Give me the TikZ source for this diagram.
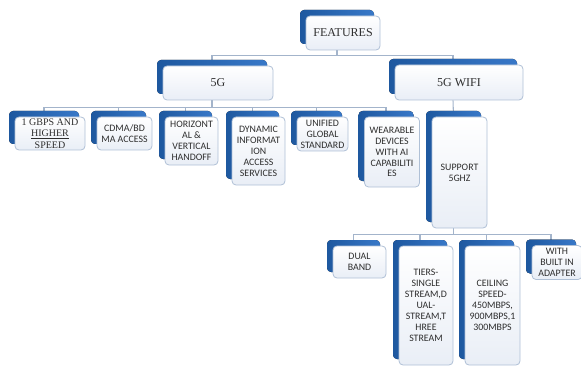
\documentclass[tikz,border=0pt]{standalone}
\usepackage{fontspec}
\setmainfont{Liberation Serif}
\newfontfamily\sansf{Carlito}
\usetikzlibrary{shadows,backgrounds}
\definecolor{backblue}{HTML}{3878C8}
\definecolor{backdark}{HTML}{1E589F}
\definecolor{boxfill}{HTML}{E9EEF6}
\definecolor{boxline}{HTML}{AFC0D6}
\definecolor{linec}{HTML}{A3B4CB}
\definecolor{txt}{HTML}{2E2E2E}
\tikzset{
  card/.style={draw=boxline, top color=white, bottom color=boxfill, rounded corners=3pt,
    line width=0.6pt, align=center, text=txt, inner sep=0pt,
    copy shadow={shadow xshift=-4.5pt, shadow yshift=4.5pt, left color=backdark,
      right color=backblue, draw=none}},
  rmcard/.style={card, font=\fontsize{9}{10}\selectfont},
  smallrm/.style={card, font=\fontsize{7.5}{8.6}\selectfont},
  sfcard/.style={card, font=\sansf\fontsize{7.4}{8.2}\selectfont},
  sz/.style 2 args={minimum width=#1*0.75pt, minimum height=#2*0.75pt},
  conn/.style={draw=linec, line width=0.8pt}
}
\begin{document}
\begin{tikzpicture}[x=0.75pt,y=-0.75pt]
   \useasboundingbox (0,0) rectangle (581,367);
   % 上段
   \node[rmcard,sz={74}{34}] (feat) at (343,33) {FEATURES};
   \node[rmcard,sz={110}{34}] (g5) at (218,83) {5G};
   \node[rmcard,sz={128}{35}] (wifi) at (459,82.5) {5G WIFI};

   % 5Gの項目
   \node[smallrm,sz={70}{33}] (gbps) at (50,133.5) {1 GBPS AND\\\underline{HIGHER}\\SPEED};
   \node[sfcard,sz={55}{33}] (cdma) at (124.5,133.5) {CDMA/BD\\MA ACCESS};
   \node[sfcard,sz={53}{48}] (horiz) at (191.5,141) {HORIZONT\\AL \&\\VERTICAL\\HANDOFF};
   \node[sfcard,sz={53}{68}] (dyn) at (258.5,151) {DYNAMIC\\INFORMAT\\ION\\ACCESS\\SERVICES};
   \node[sfcard,sz={51}{34}] (unif) at (322.5,134) {UNIFIED\\GLOBAL\\STANDARD};
   \node[sfcard,sz={55}{70}] (wear) at (392,152) {WEARABLE\\DEVICES\\WITH AI\\CAPABILITI\\ES};

   % 5G WIFIの項目
   \node[sfcard,sz={55}{111}] (sup) at (459.5,172.5) {SUPPORT\\5GHZ};
   \node[sfcard,sz={53}{32}] (dual) at (359.5,262) {DUAL\\BAND};
   \node[sfcard,sz={54}{119}] (tiers) at (426,305.5) {TIERS-\\SINGLE\\STREAM,D\\UAL-\\STREAM,T\\HREE\\STREAM};
   \node[sfcard,sz={55}{119}] (ceil) at (492.5,305.5) {CEILING\\SPEED-\\450MBPS,\\900MBPS,1\\300MBPS};
   \node[sfcard,sz={50}{34}] (built) at (557,262.5) {WITH\\BUILT IN\\ADAPTER};

   % 接続線
   \begin{scope}[on background layer]
   \draw[conn] ([xshift=-4.5pt]feat.south) -- ++(0,5) -| ([xshift=-4.5pt]g5.north);
   \draw[conn] ([xshift=-4.5pt]feat.south) -- ++(0,5) -| ([xshift=-4.5pt]wifi.north);
   \foreach \c in {gbps,cdma,horiz,dyn,unif,wear}
      \draw[conn] ([xshift=-4.5pt]g5.south) -- ++(0,7) -| ([xshift=-4.5pt]\c.north);
   \draw[conn] ([xshift=-4.5pt]wifi.south) -- ([xshift=-4.5pt]sup.north);
   \foreach \c in {dual,tiers,ceil,built}
      \draw[conn] ([xshift=-4.5pt]sup.south) -- ++(0,6) -| ([xshift=-4.5pt]\c.north);
   \end{scope}
\end{tikzpicture}
\end{document}
